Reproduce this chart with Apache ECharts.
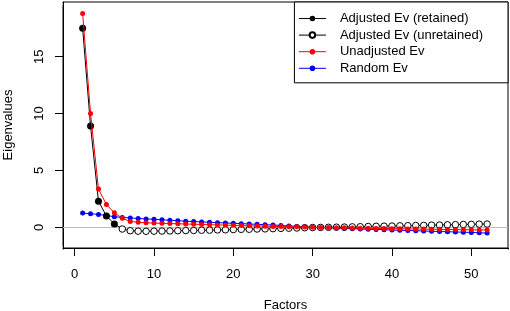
<!DOCTYPE html>
<html lang="en">
<head>
  <meta charset="utf-8">
  <script src="https://cdn.jsdelivr.net/npm/echarts@6.0.0/dist/echarts.min.js"></script>
  <style>
    html, body { margin: 0; padding: 0; background: #fff; }
  </style>
</head>
<body>
  <div id="screePlot" style="width: 510px;height:311px;"></div>

  <script type="text/javascript">

    var factors = [1, 2, 3, 4, 5, 6, 7, 8, 9, 10, 11, 12, 13, 14, 15, 16, 17, 18, 19, 20,
                   21, 22, 23, 24, 25, 26, 27, 28, 29, 30, 31, 32, 33, 34, 35, 36, 37, 38, 39, 40,
                   41, 42, 43, 44, 45, 46, 47, 48, 49, 50, 51, 52];

    var retainedCount = 5;

    var adjustedEv = [17.5, 8.9, 2.28, 1.0, 0.3,
        -0.15, -0.3, -0.34, -0.35, -0.34, -0.33, -0.32, -0.3, -0.29, -0.28,
        -0.26, -0.25, -0.23, -0.22, -0.2, -0.18, -0.17, -0.15, -0.14, -0.12,
        -0.1, -0.08, -0.06, -0.04, -0.02, -0.01, 0.0, 0.01, 0.02, 0.04,
        0.05, 0.07, 0.09, 0.1, 0.11, 0.13, 0.14, 0.16, 0.17, 0.19,
        0.2, 0.22, 0.23, 0.25, 0.26, 0.28, 0.29];

    var unadjustedEv = [18.8, 10.0, 3.36, 2.0, 1.28, 0.79, 0.52, 0.44, 0.40, 0.37,
        0.35, 0.33, 0.31, 0.29, 0.27, 0.25, 0.23, 0.21, 0.19, 0.17,
        0.15, 0.13, 0.12, 0.10, 0.08, 0.07, 0.05, 0.04, 0.02, 0.00,
        -0.01, -0.02, -0.04, -0.05, -0.07, -0.08, -0.09, -0.10, -0.11, -0.12,
        -0.13, -0.14, -0.15, -0.16, -0.17, -0.18, -0.19, -0.20, -0.21, -0.22,
        -0.23, -0.24];

    var randomEv = [1.25, 1.19, 1.13, 1.04, 0.93, 0.87, 0.82, 0.78, 0.74, 0.70,
        0.66, 0.62, 0.58, 0.54, 0.50, 0.47, 0.44, 0.41, 0.38, 0.35,
        0.32, 0.29, 0.26, 0.23, 0.20, 0.16, 0.12, 0.08, 0.04, 0.00,
        -0.03, -0.05, -0.07, -0.10, -0.12, -0.15, -0.17, -0.19, -0.21, -0.24,
        -0.26, -0.28, -0.30, -0.32, -0.35, -0.37, -0.39, -0.41, -0.43, -0.45,
        -0.48, -0.51];

    var xTicks = [0, 10, 20, 30, 40, 50];
    var yTicks = [0, 5, 10, 15];

    var seriesNames = ['Adjusted Ev (retained)', 'Adjusted Ev (unretained)', 'Unadjusted Ev', 'Random Ev'];

    function pairs(values) {
        return factors.map(function (f, i) { return [f, values[i]]; });
    }

    // white patches over the extra ticks echarts puts at the axis extents
    function edgeTickCovers() {
        const white = {fill: '#fff'};
        return [
            {type: 'rect', shape: {x: 60, y: 249.5, width: 6, height: 9}, style: white, z: 100, silent: true},
            {type: 'rect', shape: {x: 506, y: 249.5, width: 4, height: 9}, style: white, z: 100, silent: true},
            {type: 'rect', shape: {x: 50, y: 246, width: 12.5, height: 5}, style: white, z: 100, silent: true},
            {type: 'rect', shape: {x: 50, y: 0, width: 12.5, height: 5}, style: white, z: 100, silent: true}
        ];
    }

    function createScreePlot() {
        const chart = echarts.init(document.getElementById('screePlot'), null, {renderer: 'canvas'});
        const font = 'Liberation Sans, Arial, sans-serif';

        const retained = pairs(adjustedEv).slice(0, retainedCount);
        const unretained = pairs(adjustedEv).slice(retainedCount - 1).map(function (p, i) {
            // the joining point belongs to the retained set, so hide its open marker
            return i === 0 ? {value: p, symbol: 'none'} : p;
        });

        let option = {
            animation: false,
            textStyle: {fontFamily: font},
            grid: {
                left: 63, right: 2, top: 2, bottom: 63,
                show: true, borderColor: '#000', borderWidth: 1,
                outerBoundsMode: 'none'
            },
            graphic: edgeTickCovers(),
            legend: {
                data: seriesNames,
                orient: 'vertical',
                right: 2,
                top: 2,
                padding: [10, 25, 8, 4],
                itemWidth: 27,
                itemHeight: 7,
                itemGap: 3.6,
                lineStyle: {width: 1},
                backgroundColor: '#fff',
                borderColor: '#000',
                borderWidth: 1,
                borderRadius: 0,
                textStyle: {fontSize: 13, color: '#000', fontFamily: font, padding: [0, 0, 0, 9]}
            },
            xAxis: {
                type: 'value',
                min: -1.475,
                max: 54.63,
                name: 'Factors',
                nameLocation: 'middle',
                nameGap: 51,
                nameTextStyle: {fontSize: 13, color: '#000', fontFamily: font},
                splitLine: {show: false},
                axisLine: {show: true, onZero: false, lineStyle: {color: '#000', width: 1}},
                axisTick: {show: true, length: 8, lineStyle: {color: '#000'}},
                axisLabel: {customValues: xTicks, fontSize: 13, color: '#000', margin: 20, fontFamily: font}
            },
            yAxis: {
                type: 'value',
                min: -1.82,
                max: 19.81,
                name: 'Eigenvalues',
                nameLocation: 'middle',
                nameGap: 48,
                nameRotate: 90,
                nameTextStyle: {fontSize: 13, color: '#000', fontFamily: font},
                splitLine: {show: false},
                axisLine: {show: true, onZero: false, lineStyle: {color: '#000', width: 1}},
                axisTick: {show: true, length: 8, lineStyle: {color: '#000', width: 1}},
                axisLabel: {customValues: yTicks, rotate: 90, fontSize: 13, color: '#000', margin: 17, fontFamily: font}
            },
            series: [
                {
                    name: 'Random Ev',
                    type: 'line',
                    data: pairs(randomEv),
                    color: '#0000FF',
                    symbol: 'circle',
                    symbolSize: 5,
                    lineStyle: {width: 1},
                    z: 2,
                    markLine: {
                        silent: true,
                        symbol: 'none',
                        label: {show: false},
                        lineStyle: {color: '#BEBEBE', type: 'solid', width: 1},
                        data: [{yAxis: 0}],
                        z: 1
                    }
                },
                {
                    name: 'Adjusted Ev (retained)',
                    type: 'line',
                    data: retained,
                    color: '#000',
                    symbol: 'circle',
                    symbolSize: 7,
                    lineStyle: {width: 1},
                    z: 3
                },
                {
                    name: 'Adjusted Ev (unretained)',
                    type: 'line',
                    data: unretained,
                    symbol: 'circle',
                    symbolSize: 6.5,
                    itemStyle: {color: '#fff', borderColor: '#000', borderWidth: 1},
                    lineStyle: {width: 1, color: '#000'},
                    z: 3
                },
                {
                    name: 'Unadjusted Ev',
                    type: 'line',
                    data: pairs(unadjustedEv),
                    color: '#FF0000',
                    symbol: 'circle',
                    symbolSize: 5,
                    lineStyle: {width: 1},
                    z: 4
                }
            ]
        };

        chart.setOption(option);
    }
    createScreePlot();
  </script>
</body>
</html>
